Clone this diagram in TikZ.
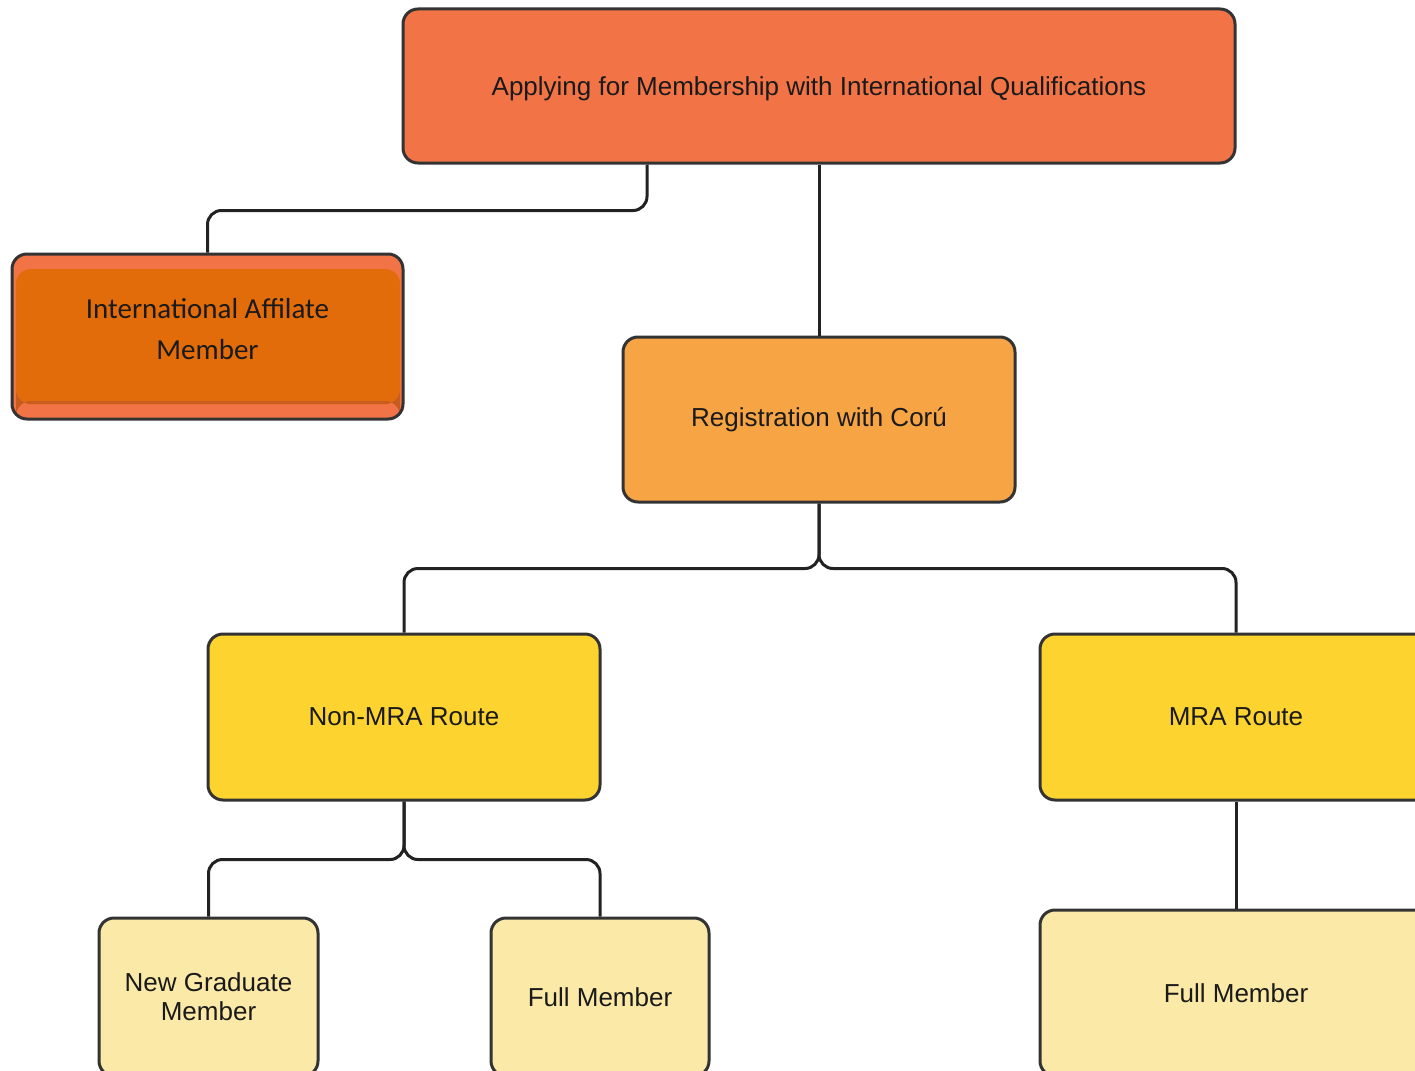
\documentclass[tikz,border=0pt]{standalone}
\usepackage{fontspec}
\setmainfont{Liberation Sans}
\newfontfamily\calib{Carlito}
\definecolor{cTop}{RGB}{242,116,70}
\definecolor{cAffIn}{RGB}{227,108,10}
\definecolor{cAffLine}{RGB}{200,92,30}
\definecolor{cReg}{RGB}{246,164,68}
\definecolor{cRoute}{RGB}{253,212,47}
\definecolor{cLeaf}{RGB}{251,233,167}
\definecolor{cBorder}{RGB}{51,51,51}
\definecolor{cLine}{RGB}{34,34,34}
\definecolor{cText}{RGB}{26,26,26}
\begin{document}
\begin{tikzpicture}[x=1pt,y=-1pt,
  box/.style={draw=cBorder,line width=3pt,rounded corners=15pt,inner sep=0pt,
    text=cText,align=center,font=\fontsize{26}{29}\selectfont},
  conn/.style={draw=cLine,line width=3pt,rounded corners=14pt}]
\clip (0,0) rectangle (1415,1070);
\fill[white] (0,0) rectangle (1415,1070);

\node[box,fill=cTop,minimum width=832pt,minimum height=154pt,text height=24pt] (top) at (819,86)
  {Applying for Membership with International Qualifications};

\node[box,fill=cTop,minimum width=391pt,minimum height=165pt,
  font=\calib\fontsize{29}{41}\selectfont,text depth=16pt,
  path picture={
    \fill[cAffIn] ([xshift=4pt,yshift=-15pt]path picture bounding box.north west)
      rectangle ([xshift=-3pt,yshift=15pt]path picture bounding box.south east);
    \fill[cAffLine] ([xshift=4pt,yshift=15pt]path picture bounding box.south west)
      rectangle ([xshift=-3pt,yshift=18pt]path picture bounding box.south east);
  }] (aff) at (207.5,336.5) {International Affilate\\Member};

\node[box,fill=cReg,minimum width=392pt,minimum height=165pt] (reg) at (819,419.5)
  {Registration with Corú};

\node[box,fill=cRoute,minimum width=392pt,minimum height=166pt] (nonmra) at (404,717)
  {Non-MRA Route};
\node[box,fill=cRoute,minimum width=392pt,minimum height=166pt] (mra) at (1236,717)
  {MRA Route};

\node[box,fill=cLeaf,minimum width=219pt,minimum height=158pt] (newgrad) at (208.5,997)
  {New Graduate\\Member};
\node[box,fill=cLeaf,minimum width=218pt,minimum height=158pt] (fullA) at (600,997)
  {Full Member};
\node[box,fill=cLeaf,minimum width=392pt,minimum height=166pt] (fullB) at (1236,993)
  {Full Member};

\draw[conn] ([xshift=-172pt]top.south) -- ++(0,46) -| (aff.north);
\draw[conn] (top.south) -- (reg.north);
\draw[conn] (reg.south) -- ++(0,65) -| (nonmra.north);
\draw[conn] (reg.south) -- ++(0,65) -| (mra.north);
\draw[conn] (nonmra.south) -- ++(0,58) -| (newgrad.north);
\draw[conn] (nonmra.south) -- ++(0,58) -| (fullA.north);
\draw[conn] (mra.south) -- (fullB.north);
\end{tikzpicture}
\end{document}
